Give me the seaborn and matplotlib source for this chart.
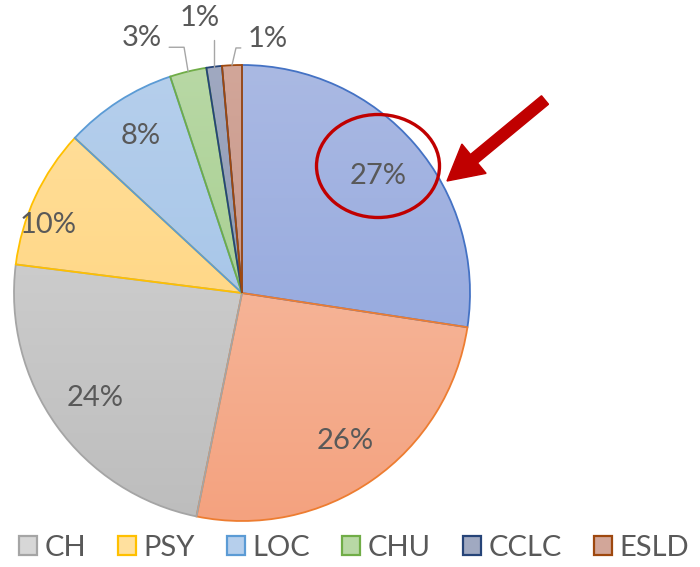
import numpy as np
import matplotlib
matplotlib.use("Agg")
import matplotlib.pyplot as plt
import seaborn as sns
from matplotlib.colors import LinearSegmentedColormap
from matplotlib.patches import Ellipse, Patch

# slices clockwise from 12 o'clock; the first two have no legend entry in the source
categories = [None, None, "CH", "PSY", "LOC", "CHU", "CCLC", "ESLD"]
shares = [27.4, 25.8, 23.8, 9.9, 8.0, 2.6, 1.1, 1.4]
light_colors = ["#aab9e3", "#f7c5ae", "#d7d7d7", "#ffe09e", "#b6cfec", "#b8d8a5", "#a0a9c1", "#d2a699"]
dark_colors = ["#8ba1dc", "#f4a27f", "#bdbdbd", "#ffd072", "#9bbfe6", "#9cc982", "#7f8aa9", "#c08b7d"]
edge_colors = ["#4472c4", "#ed7d31", "#a5a5a5", "#ffc000", "#5b9bd5", "#70ad47", "#264478", "#9e480e"]

TEXT = "#595959"
sns.set_theme(style="white")
plt.rcParams["font.family"] = ["Lato", "DejaVu Sans"]

W, H = 700, 567
fig = plt.figure(figsize=(W / 100, H / 100), dpi=100)
ax = fig.add_axes([0, 0, 1, 1])

cx, cy, R = 242, 274, 228
wedges, _ = ax.pie(shares, startangle=90, counterclock=False, center=(cx, cy), radius=R,
                   wedgeprops=dict(linewidth=1.3))

grad = np.linspace(0, 1, 256).reshape(-1, 1)
for w, lc, dc, ec in zip(wedges, light_colors, dark_colors, edge_colors):
    cmap = LinearSegmentedColormap.from_list("g", [lc, dc])
    im = ax.imshow(grad, cmap=cmap, extent=(cx - R, cx + R, cy - R, cy + R),
                   origin="upper", aspect="auto", zorder=0.5)
    im.set_clip_path(w)
    w.set_facecolor("none")
    w.set_edgecolor(ec)
    w.set_zorder(1)

# label placement as (angle, radius fraction); None angle means slice middle
label_pos = [(None, 0.79), (None, 0.79), (None, 0.79), (160.7, 0.90), (None, 0.82),
             (111.4, 1.20), (98.7, 1.22), (84.2, 1.12)]
for i, (w, s) in enumerate(zip(wedges, shares)):
    label = f"{s:.0f}%"
    mid = np.deg2rad((w.theta1 + w.theta2) / 2)
    ang, rf = label_pos[i]
    a = mid if ang is None else np.deg2rad(ang)
    lx, ly = cx + rf * R * np.cos(a), cy + rf * R * np.sin(a)
    ax.text(lx, ly, label, ha="center", va="center", fontsize=21, color=TEXT, zorder=3)
    if rf > 1:
        rx, ry = cx + R * np.cos(mid), cy + R * np.sin(mid)
        if abs(rx - lx) < 20:
            xs, ys = [rx, rx], [ly - 22, ry]
        else:
            side = np.sign(rx - lx)
            xs = [lx + side * 27, rx - side * 4, rx]
            ys = [ly - 9, ly - 9, ry]
        ax.plot(xs, ys, color="#a6a6a6", lw=1, zorder=2)

# highlight on the largest slice
ax.add_patch(Ellipse((378, 401), 123, 103, fill=False, ec="#c00000", lw=2.4, zorder=4))
ax.arrow(545, 467, -98, -81, width=11, head_width=38, head_length=35,
         length_includes_head=True, color="#c00000", zorder=4)

ax.set_xlim(0, W)
ax.set_ylim(0, H)
ax.set_aspect("equal")
ax.axis("off")

handles, labels = [], []
for name, lc, dc, ec in zip(categories, light_colors, dark_colors, edge_colors):
    if name is None:
        continue
    handles.append(Patch(facecolor=lc, edgecolor=ec, linewidth=1.6))
    labels.append(name)
fig.legend(handles, labels, loc="center", bbox_to_anchor=(354 / W, 1 - 548 / H), ncol=6,
           frameon=False, handlelength=0.62, handleheight=0.62, handletextpad=0.25,
           columnspacing=1.1, fontsize=21, labelcolor=TEXT)

fig.savefig("out.png", dpi=100)
